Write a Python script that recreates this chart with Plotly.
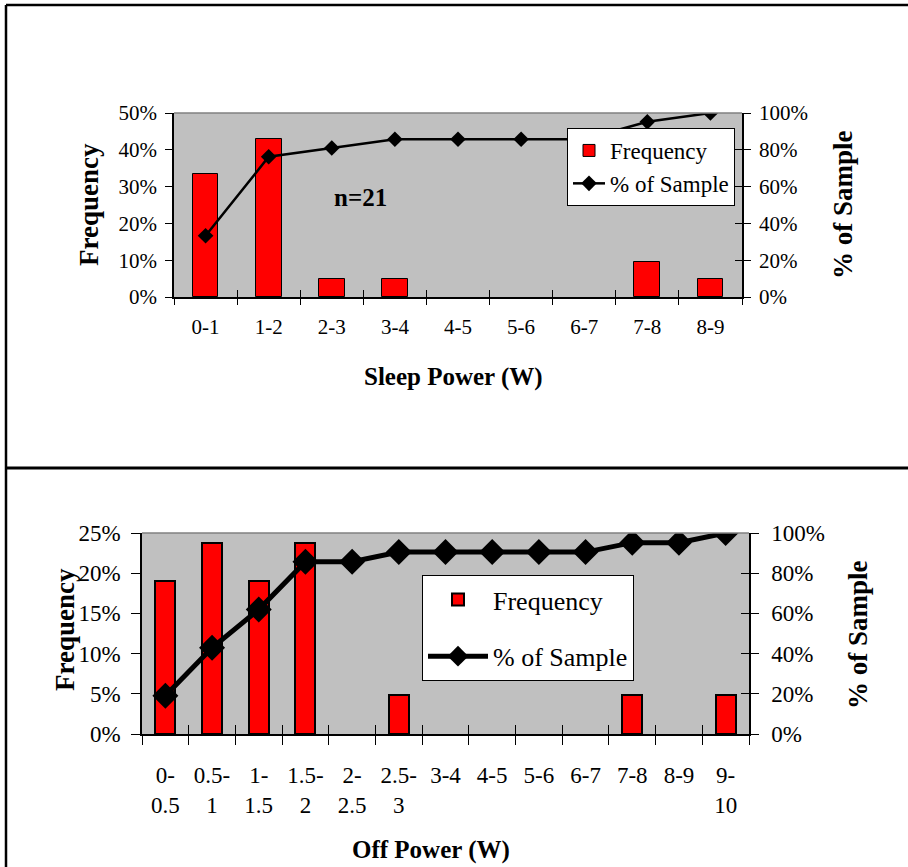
import plotly.graph_objects as go

# ---------------- data ----------------
sleep_bins = ["0-1", "1-2", "2-3", "3-4", "4-5", "5-6", "6-7", "7-8", "8-9"]
sleep_freq = [0.333, 0.429, 0.048, 0.048, 0.0, 0.0, 0.0, 0.095, 0.048]
sleep_cum = [0.333, 0.762, 0.810, 0.857, 0.857, 0.857, 0.857, 0.952, 1.0]

off_bins = ["0-0.5", "0.5-1", "1-1.5", "1.5-2", "2-2.5", "2.5-3", "3-4",
            "4-5", "5-6", "6-7", "7-8", "8-9", "9-10"]
off_tick_labels = ["0-<br>0.5", "0.5-<br>1", "1-<br>1.5", "1.5-<br>2", "2-<br>2.5",
                   "2.5-<br>3", "3-4", "4-5", "5-6", "6-7", "7-8", "8-9", "9-<br>10"]
off_freq = [0.190, 0.238, 0.190, 0.238, 0.0, 0.048, 0.0, 0.0, 0.0, 0.0, 0.048, 0.0, 0.048]
off_cum = [0.190, 0.429, 0.619, 0.857, 0.857, 0.905, 0.905, 0.905, 0.905, 0.905,
           0.952, 0.952, 1.0]

W, H = 908, 867
FONT = "Liberation Serif, Times New Roman, serif"
BG = "#C0C0C0"

def px(x):
    return x / W

def py(y):
    return 1 - y / H

top_dom_x = [px(174), px(742)]
top_dom_y = [py(297), py(113)]
bot_dom_x = [px(142), px(749)]
bot_dom_y = [py(734), py(533)]

fig = go.Figure()

# ---- top chart ----
fig.add_trace(go.Bar(
    x=sleep_bins, y=sleep_freq, name="Frequency", width=0.41,
    marker=dict(color="#FF0000",
                line=dict(color="black", width=[1 if v > 0 else 0 for v in sleep_freq])),
    xaxis="x", yaxis="y", legend="legend", legendgroup="a"))
fig.add_trace(go.Scatter(
    x=sleep_bins, y=sleep_cum, name="% of Sample", mode="lines+markers",
    line=dict(color="black", width=2.5),
    marker=dict(symbol="diamond", size=12, color="black"),
    xaxis="x", yaxis="y2", legend="legend", legendgroup="b"))
# helper for crossing ticks (invisible)
fig.add_trace(go.Scatter(
    x=sleep_bins, y=sleep_cum, mode="markers", marker=dict(opacity=0),
    showlegend=False, hoverinfo="skip", xaxis="x3", yaxis="y5"))

# ---- bottom chart ----
fig.add_trace(go.Bar(
    x=off_bins, y=off_freq, name="Frequency", width=0.43,
    marker=dict(color="#FF0000",
                line=dict(color="black", width=[2 if v > 0 else 0 for v in off_freq])),
    xaxis="x2", yaxis="y3", legend="legend2", legendgroup="a"))
fig.add_trace(go.Scatter(
    x=off_bins, y=off_cum, name="% of Sample", mode="lines+markers",
    line=dict(color="black", width=5),
    marker=dict(symbol="diamond", size=20, color="black"),
    xaxis="x2", yaxis="y4", legend="legend2", legendgroup="b"))
fig.add_trace(go.Scatter(
    x=off_bins, y=off_cum, mode="markers", marker=dict(opacity=0),
    showlegend=False, hoverinfo="skip", xaxis="x4", yaxis="y6"))

tickfont_top = dict(family=FONT, size=21, color="black")
tickfont_bot = dict(family=FONT, size=23, color="black")

common_x = dict(type="category", showgrid=False, zeroline=False, automargin=False,
                tickson="boundaries", ticks="outside", tickcolor="black",
                showline=True, linecolor="black", linewidth=1.5)

fig.update_layout(
    template="none",
    font=dict(family=FONT, color="black"),
    width=W, height=H, margin=dict(l=0, r=0, t=0, b=0, autoexpand=False),
    paper_bgcolor="white", plot_bgcolor=BG, bargap=0,
    xaxis=dict(common_x, domain=top_dom_x, anchor="y",
               range=[-0.5, len(sleep_bins) - 0.5], ticklen=6,
               tickfont=tickfont_top, ticklabelstandoff=10),
    xaxis3=dict(type="category", overlaying="x", anchor="y5", showgrid=False,
                zeroline=False, tickson="boundaries", ticks="inside", ticklen=7,
                tickcolor="black", showticklabels=False, showline=False,
                automargin=False, range=[-0.5, len(sleep_bins) - 0.5]),
    yaxis=dict(domain=top_dom_y, anchor="x", range=[0, 0.5], dtick=0.1,
               tickformat=".0%", showgrid=False, zeroline=False, automargin=False,
               ticks="outside", ticklen=7, tickcolor="black",
               showline=True, linecolor="black", linewidth=1.5,
               tickfont=tickfont_top, ticklabelstandoff=4),
    yaxis2=dict(overlaying="y", side="right", anchor="x", range=[0, 1],
                dtick=0.2, tickformat=".0%", showgrid=False, zeroline=False,
                automargin=False,
                ticks="outside", ticklen=7, tickcolor="black",
                showline=True, linecolor="black", linewidth=1.5,
                tickfont=tickfont_top, ticklabelstandoff=4),
    yaxis5=dict(overlaying="y", side="right", anchor="x3", range=[0, 1],
                dtick=0.2, showgrid=False, zeroline=False, ticks="inside",
                ticklen=7, tickcolor="black", showticklabels=False,
                showline=False, automargin=False),
    xaxis2=dict(common_x, domain=bot_dom_x, anchor="y3",
                range=[-0.5, len(off_bins) - 0.5], ticklen=9,
                tickvals=off_bins, ticktext=off_tick_labels,
                tickfont=tickfont_bot, ticklabelstandoff=20),
    xaxis4=dict(type="category", overlaying="x2", anchor="y6", showgrid=False,
                zeroline=False, tickson="boundaries", ticks="inside", ticklen=9,
                tickcolor="black", showticklabels=False, showline=False,
                automargin=False, range=[-0.5, len(off_bins) - 0.5]),
    yaxis3=dict(domain=bot_dom_y, anchor="x2", range=[0, 0.25], dtick=0.05,
                tickformat=".0%", showgrid=False, zeroline=False, automargin=False,
                ticks="outside", ticklen=9, tickcolor="black",
                showline=True, linecolor="black", linewidth=1.5,
                tickfont=tickfont_bot, ticklabelstandoff=6),
    yaxis4=dict(overlaying="y3", side="right", anchor="x2", range=[0, 1],
                dtick=0.2, tickformat=".0%", showgrid=False, zeroline=False,
                automargin=False,
                ticks="outside", ticklen=8, tickcolor="black",
                showline=True, linecolor="black", linewidth=1.5,
                tickfont=tickfont_bot, ticklabelstandoff=8),
    yaxis6=dict(overlaying="y3", side="right", anchor="x4", range=[0, 1],
                dtick=0.2, showgrid=False, zeroline=False, ticks="inside",
                ticklen=8, tickcolor="black", showticklabels=False,
                showline=False, automargin=False),
    legend=dict(x=px(567), y=py(128), xanchor="left", yanchor="top",
                bgcolor="white", bordercolor="black", borderwidth=1,
                font=dict(family=FONT, size=23, color="black"),
                traceorder="grouped", tracegroupgap=0, itemwidth=32,
                entrywidthmode="pixels", entrywidth=180),
    legend2=dict(x=px(422), y=py(575), xanchor="left", yanchor="top",
                 bgcolor="white", bordercolor="black", borderwidth=1,
                 font=dict(family=FONT, size=26, color="black"),
                 traceorder="grouped", tracegroupgap=20, itemwidth=60,
                 entrywidthmode="pixels", entrywidth=262),
    showlegend=True,
)

title_font_h = dict(family=FONT, size=25, color="black")
title_font_v = dict(family=FONT, size=27, color="black")
ann = [
    dict(text="<b>Sleep Power (W)</b>", x=px(453), y=py(377), font=title_font_h),
    dict(text="<b>Frequency</b>", x=px(89), y=py(205), textangle=-90, font=title_font_v),
    dict(text="<b>% of Sample</b>", x=px(843), y=py(205), textangle=-90, font=title_font_v),
    dict(text="<b>n=21</b>", x=px(360), y=py(197), font=title_font_h),
    dict(text="<b>Off Power (W)</b>", x=px(431), y=py(850), font=title_font_h),
    dict(text="<b>Frequency</b>", x=px(65), y=py(630), textangle=-90, font=title_font_v),
    dict(text="<b>% of Sample</b>", x=px(858), y=py(635), textangle=-90, font=title_font_v),
]
for a in ann:
    fig.add_annotation(xref="paper", yref="paper", showarrow=False,
                       xanchor="center", yanchor="middle", **a)

# plot-area grey top edges
fig.add_shape(type="line", xref="x domain", yref="y domain", x0=0, x1=1, y0=1, y1=1,
              line=dict(color="#808080", width=1.5))
fig.add_shape(type="line", xref="x2 domain", yref="y3 domain", x0=0, x1=1, y0=1, y1=1,
              line=dict(color="#808080", width=1.5))

# outer panel frames
frame = dict(color="black", width=2.5)
fig.add_shape(type="line", xref="paper", yref="paper", x0=px(6), x1=1, y0=py(5), y1=py(5), line=frame)
fig.add_shape(type="line", xref="paper", yref="paper", x0=px(6), x1=px(6), y0=0, y1=py(5), line=frame)
fig.add_shape(type="line", xref="paper", yref="paper", x0=px(6), x1=1, y0=py(468), y1=py(468),
              line=dict(color="black", width=3))

fig.write_html("out.html", config={"displayModeBar": False},
               post_script="document.body.style.margin='0';")
